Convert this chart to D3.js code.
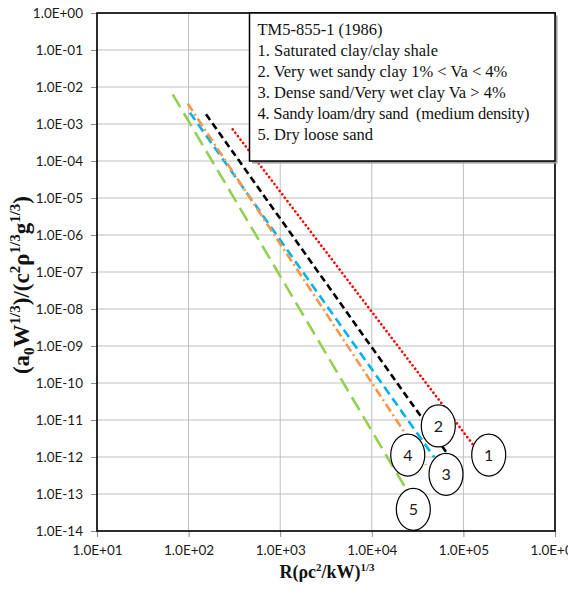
<!DOCTYPE html>
<html><head><meta charset="utf-8">
<script src="https://cdn.jsdelivr.net/npm/d3@7"></script>
<style>body{margin:0;background:#fff}</style>
</head><body>
<svg id="chart" width="568" height="595"></svg>
<script>
// Axis ticks (decades)
const xTickValues = [1e1, 1e2, 1e3, 1e4, 1e5, 1e6];
const yTickValues = [1e0, 1e-1, 1e-2, 1e-3, 1e-4, 1e-5, 1e-6, 1e-7, 1e-8, 1e-9, 1e-10, 1e-11, 1e-12, 1e-13, 1e-14];

// Soil-type curves: each is a straight segment on log-log axes
const curveIds    = ["1", "2", "3", "4", "5"];
const curveStartR = [303, 155, 103.5, 97.7, 67];
const curveStartA = [7.2e-4, 1.83e-3, 2.02e-3, 3.6e-3, 6.35e-3];
const curveEndR   = [1.26e5, 6.46e4, 4.8e4, 3.9e4, 2.3e4];
const curveEndA   = [2.24e-12, 1.39e-12, 9.8e-13, 6.1e-13, 1.55e-13];

// Numbered callout positions
const calloutR = [1.89e5, 5.32e4, 6.46e4, 2.47e4, 2.84e4];
const calloutA = [1.13e-12, 6.9e-12, 3.4e-13, 1.13e-12, 3.86e-14];

// Legend text
const legendLines = [
  "TM5-855-1 (1986)",
  "1. Saturated clay/clay shale",
  "2. Very wet sandy clay 1% < Va < 4%",
  "3. Dense sand/Very wet clay Va > 4%",
  "4. Sandy loam/dry sand  (medium density)",
  "5. Dry loose sand"
];

const curveStyles = {
  "1": {color: "#ff0000", dash: "0.1 4.2", cap: "round", width: 2.6},
  "2": {color: "#000000", dash: "7 4", cap: "butt", width: 2.6},
  "3": {color: "#00b0f0", dash: "9 5", cap: "butt", width: 2.6},
  "4": {color: "#f79646", dash: "9 3.5 2 3.5", cap: "butt", width: 2.6},
  "5": {color: "#92d050", dash: "15 7", cap: "butt", width: 2.6}
};

const W = 568, H = 595;
const margin = {left: 97, right: 13, top: 13, bottom: 64};
const svg = d3.select("#chart");

const x = d3.scaleLog().domain([1e1, 1e6]).range([margin.left, W - margin.right]);
const y = d3.scaleLog().domain([1e-14, 1e0]).range([H - margin.bottom, margin.top]);

const fmt = v => {
  const e = Math.round(Math.log10(v));
  return "1.0E" + (e < 0 ? "-" : "+") + String(Math.abs(e)).padStart(2, "0");
};

const tickFont = "Lato, 'Liberation Sans', sans-serif";

// Grid
const grid = svg.append("g");
grid.selectAll("line.gx").data(xTickValues).join("line")
  .attr("x1", d => x(d)).attr("x2", d => x(d))
  .attr("y1", y(1e0)).attr("y2", y(1e-14))
  .attr("stroke", "#bfbfbf").attr("stroke-width", 1);
grid.selectAll("line.gy").data(yTickValues).join("line")
  .attr("y1", d => y(d)).attr("y2", d => y(d))
  .attr("x1", x(1e1)).attr("x2", x(1e6))
  .attr("stroke", "#bfbfbf").attr("stroke-width", 1);

// Axes
const xAxis = d3.axisBottom(x).tickValues(xTickValues).tickFormat(fmt).tickSize(6).tickPadding(8);
const yAxis = d3.axisLeft(y).tickValues(yTickValues).tickFormat(fmt).tickSize(6).tickPadding(8);

const gx = svg.append("g").attr("transform", `translate(0,${y(1e-14)})`).call(xAxis);
const gy = svg.append("g").attr("transform", `translate(${x(1e1)},0)`).call(yAxis);
[gx, gy].forEach(g => {
  g.select(".domain").remove();
  g.selectAll(".tick line").attr("stroke", "#8c8c8c");
  g.selectAll(".tick text").attr("font-family", tickFont).attr("font-size", 13.5).attr("fill", "#1a1a1a");
});

// Curves
const curves = curveIds.map((id, i) => ({
  id,
  pts: [[curveStartR[i], curveStartA[i]], [curveEndR[i], curveEndA[i]]]
}));
const lineGen = d3.line().x(d => x(d[0])).y(d => y(d[1]));
svg.append("g").selectAll("path").data(curves).join("path")
  .attr("d", d => lineGen(d.pts))
  .attr("fill", "none")
  .attr("stroke", d => curveStyles[d.id].color)
  .attr("stroke-width", d => curveStyles[d.id].width)
  .attr("stroke-dasharray", d => curveStyles[d.id].dash)
  .attr("stroke-linecap", d => curveStyles[d.id].cap);

// Numbered callouts
const co = svg.append("g").selectAll("g").data(curveIds).join("g")
  .attr("transform", (d, i) => `translate(${x(calloutR[i])},${y(calloutA[i])})`);
co.append("ellipse").attr("rx", 17).attr("ry", 21)
  .attr("fill", "#fff").attr("stroke", "#000").attr("stroke-width", 1.2);
co.append("text").text(d => d)
  .attr("text-anchor", "middle").attr("dy", "0.35em")
  .attr("font-family", tickFont).attr("font-size", 16).attr("fill", "#1a1a1a");

// Plot border
svg.append("rect")
  .attr("x", x(1e1)).attr("y", y(1e0))
  .attr("width", x(1e6) - x(1e1)).attr("height", y(1e-14) - y(1e0))
  .attr("fill", "none").attr("stroke", "#000").attr("stroke-width", 1.6);

// Legend box with shadow
const lg = {x: 249.5, y: 13, w: 305.5, h: 148};
svg.append("rect").attr("x", lg.x + 2.5).attr("y", lg.y + 2.5).attr("width", lg.w).attr("height", lg.h)
  .attr("fill", "#9a9a9a");
svg.append("rect").attr("x", lg.x).attr("y", lg.y).attr("width", lg.w).attr("height", lg.h)
  .attr("fill", "#fff").attr("stroke", "#000").attr("stroke-width", 1.5);
svg.append("g").selectAll("text").data(legendLines).join("text")
  .attr("x", lg.x + 8).attr("y", (d, i) => 35 + i * 21)
  .attr("font-family", "'Liberation Serif', 'Times New Roman', serif")
  .attr("font-size", 16.5).attr("fill", "#111")
  .attr("xml:space", "preserve")
  .attr("textLength", (d, i) => i === 4 ? 272 : null)
  .text(d => d);

// Axis titles
const serif = "'Liberation Serif', 'Times New Roman', serif";
const xt = svg.append("text")
  .attr("x", 327).attr("y", 578).attr("text-anchor", "middle")
  .attr("font-family", serif).attr("font-weight", "bold").attr("font-size", 18).attr("fill", "#111");
xt.append("tspan").text("R(ρc");
xt.append("tspan").text("2").attr("font-size", 11).attr("dy", -7);
xt.append("tspan").text("/kW)").attr("dy", 7);
xt.append("tspan").text("1/3").attr("font-size", 11).attr("dy", -7);

const yt = svg.append("text")
  .attr("transform", "translate(29,285) rotate(-90)").attr("text-anchor", "middle")
  .attr("font-family", serif).attr("font-weight", "bold").attr("font-size", 23).attr("fill", "#111");
const parts = [
  ["(a", 0], ["0", 1], ["W", 0], ["1/3", 2], [")/(c", 0], ["2", 2],
  ["ρ", 0], ["1/3", 2], ["g", 0], ["1/3", 2], [")", 0]
];
let cur = 0;
parts.forEach(([t, kind]) => {
  const target = kind === 1 ? 5 : kind === 2 ? -9 : 0;
  yt.append("tspan").text(t)
    .attr("font-size", kind ? 15 : 23)
    .attr("dy", target - cur);
  cur = target;
});
</script>
</body></html>
